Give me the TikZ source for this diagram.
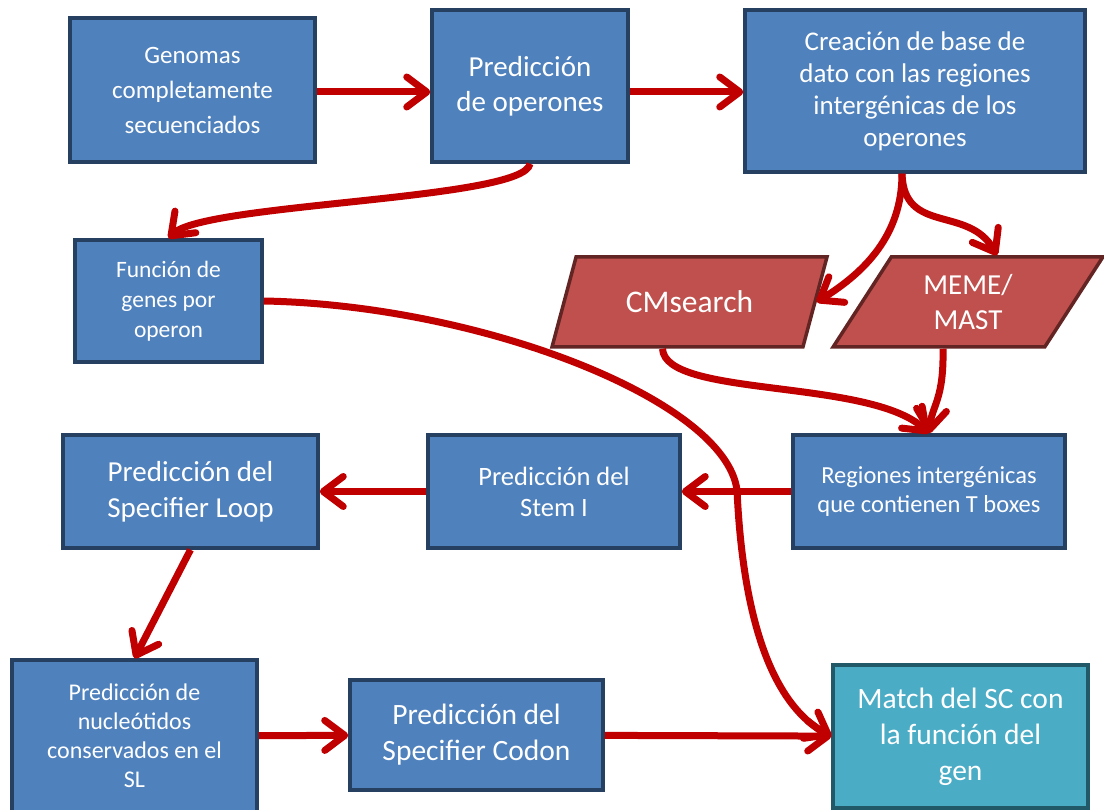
\documentclass[tikz,border=0pt]{standalone}
\usepackage{fontspec}
\setmainfont{Carlito}
\usepackage{tikz}
\usetikzlibrary{shapes.geometric,arrows.meta,positioning}

\begin{document}
\begin{tikzpicture}[x=1pt,y=-1pt,
		caja/.style={draw=cBorde, fill=cCaja, line width=3.5pt, text=white,
			align=center, inner sep=2pt},
		final/.style={caja, draw=cBordeFinal, fill=cFinal},
		paralelo/.style={trapezium, trapezium left angle=58.6,
			trapezium right angle=121.4, trapezium stretches=true,
			draw=cBordeRojo, fill=cRojo,
			line width=3.5pt, text=white, align=center, inner sep=0pt,
			minimum width=275pt, minimum height=90pt},
		flecha/.style={draw=cFlecha, line width=7pt,
			-{Straight Barb[length=20pt,width=30pt,round]}}]
		% Colores
		\definecolor{cCaja}{RGB}{79,129,189}
		\definecolor{cBorde}{RGB}{37,64,97}
		\definecolor{cRojo}{RGB}{192,80,77}
		\definecolor{cBordeRojo}{RGB}{99,37,35}
		\definecolor{cFinal}{RGB}{75,172,198}
		\definecolor{cBordeFinal}{RGB}{33,89,104}
		\definecolor{cFlecha}{RGB}{192,0,0}
		
		\useasboundingbox (0,0) rectangle (1104,810);
		
		% Fila superior
		\node[caja, minimum width=245pt, minimum height=144pt,
		font=\fontsize{25}{35}\selectfont] (genomas) at (192.5,90)
		{Genomas\\completamente\\secuenciados};
		\node[caja, minimum width=196pt, minimum height=152pt,
		font=\fontsize{29}{35}\selectfont] (operones) at (530,86)
		{Predicción\\de operones};
		\node[caja, minimum width=340pt, minimum height=162pt,
		font=\fontsize{27}{32}\selectfont] (creacion) at (915,91)
		{Creación de base de\\dato con las regiones\\intergénicas de los\\operones};
		
		% Segunda fila
		\node[caja, minimum width=187pt, minimum height=122pt,
		font=\fontsize{23.5}{30}\selectfont] (funcion) at (168.5,301)
		{Función de\\genes por\\operon};
		\node[paralelo, font=\fontsize{31.5}{35}\selectfont] (cmsearch) at (689.5,302)
		{CMsearch};
		\node[paralelo, minimum width=270pt, font=\fontsize{29}{35}\selectfont] (meme)
		at (968,302) {MEME/\\MAST};
		
		% Tercera fila
		\node[caja, minimum width=272pt, minimum height=113pt,
		font=\fontsize{24.5}{29}\selectfont] (regiones) at (929,491.5)
		{Regiones intergénicas\\que contienen T boxes};
		\node[caja, minimum width=252pt, minimum height=113pt,
		font=\fontsize{26.5}{31}\selectfont] (stem) at (554,491.5)
		{Predicción del\\Stem I};
		\node[caja, minimum width=255pt, minimum height=113pt,
		font=\fontsize{29}{36}\selectfont] (loop) at (190.5,491.5)
		{Predicción del\\Specifier Loop};
		
		% Fila inferior
		\node[caja, minimum width=245pt, minimum height=152pt,
		font=\fontsize{24}{29}\selectfont] (nucleotidos) at (134.5,736)
		{Predicción de\\nucleótidos\\conservados en el\\SL};
		\node[caja, minimum width=253pt, minimum height=110pt,
		font=\fontsize{29.5}{36}\selectfont] (codon) at (476.5,735)
		{Predicción del\\Specifier Codon};
		\node[final, minimum width=255pt, minimum height=143pt,
		font=\fontsize{29.5}{36}\selectfont] (match) at (960.5,736.5)
		{Match del SC con\\la función del\\gen};
		
		% Flechas
		\draw[flecha] ([yshift=-2pt]genomas.east) coordinate (ab)
		-- (ab -| operones.west);
		\draw[flecha] ([yshift=-6pt]operones.east) coordinate (bc)
		-- (bc -| creacion.west);
		\draw[flecha] (operones.south) .. controls (525,200) and (205,203) ..
		(funcion.north);
		\draw[flecha] ([xshift=-13pt]creacion.south) .. controls (902,235) and (865,272) ..
		(cmsearch.east);
		\draw[flecha] ([xshift=-13pt]creacion.south) .. controls (904,235) and (968,205) ..
		([xshift=29pt]meme.north);
		\draw[flecha] ([xshift=-27pt]cmsearch.south) .. controls (665,398) and (870,378) ..
		(regiones.north);
		\draw[flecha] ([xshift=-25pt]meme.south) .. controls (944,400) and (932,405) ..
		(regiones.north);
		\draw[flecha] (regiones) -- (stem);
		\draw[flecha] (stem) -- (loop);
		\draw[flecha] (loop.south) -- (nucleotidos.north);
		\draw[flecha] (nucleotidos) -- (codon);
		\draw[flecha] (codon) -- (match);
		\draw[flecha] (funcion.east) .. controls (480,305) and (725,400) ..
		(737,490) .. controls (742,600) and (765,700) .. (match.west);
	\end{tikzpicture}
\end{document}
